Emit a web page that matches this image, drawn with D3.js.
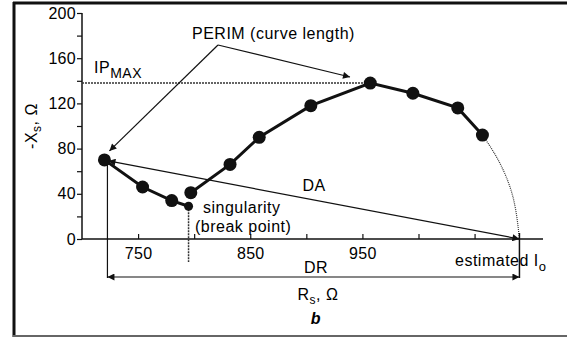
<!DOCTYPE html>
<html>
<head>
<meta charset="utf-8">
<script src="https://cdn.jsdelivr.net/npm/d3@7"></script>
<style>
  body { margin: 0; background: #fff; }
  text { font-family: "Liberation Sans", Arial, sans-serif; fill: #000; letter-spacing: 0.5px; }
</style>
</head>
<body>
<svg id="chart" width="567" height="337"></svg>
<script>
// impedance locus points (Rs, -Xs)
const rs = [720, 754, 780, 797, 832, 858, 904, 957, 995, 1035, 1057];
const xs = [70, 46, 34, 41, 66, 90, 118, 138, 129, 116, 92];
const singularity = [795, 29];
// dotted extrapolation down to the estimated Io
const extrapRs = [1057, 1071, 1084, 1090];
const extrapXs = [92, 70, 38, 0];
const xTicks = [750, 800, 850, 900, 950, 1000, 1050];
const xLabels = [750, 850, 950];
const yTicks = [0, 20, 40, 60, 80, 100, 120, 140, 160, 180, 200];
const yLabels = [0, 40, 80, 120, 160, 200];
const ipMax = 138;
const estIo = 1090;

const svg = d3.select('#chart');
const x = d3.scaleLinear().domain([700, 1111]).range([82, 543]);
const y = d3.scaleLinear().domain([0, 200]).range([239, 13]);

// frame
svg.append('line').attr('x1', 13).attr('x2', 567).attr('y1', 3).attr('y2', 3).attr('stroke', '#111').attr('stroke-width', 3);
svg.append('line').attr('x1', 14).attr('x2', 14).attr('y1', 2).attr('y2', 337).attr('stroke', '#111').attr('stroke-width', 3);
svg.append('line').attr('x1', 13).attr('x2', 567).attr('y1', 336).attr('y2', 336).attr('stroke', '#666').attr('stroke-width', 2);

const defs = svg.append('defs');
defs.append('marker').attr('id', 'arr').attr('viewBox', '0 0 10 10')
  .attr('refX', 10).attr('refY', 5).attr('markerWidth', 9).attr('markerHeight', 7)
  .attr('markerUnits', 'userSpaceOnUse').attr('orient', 'auto-start-reverse')
  .append('path').attr('d', 'M0,0L10,5L0,10z').attr('fill', '#111');

// axes
const xAxis = svg.append('g').attr('transform', `translate(0,${y(0)})`)
  .call(d3.axisBottom(x).tickValues(xTicks).tickSize(-5).tickPadding(9).tickFormat(d => xLabels.includes(d) ? d : ''));
const yAxis = svg.append('g').attr('transform', `translate(${x(700)},0)`)
  .call(d3.axisLeft(y).tickValues(yTicks).tickSize(5).tickPadding(1).tickFormat(d => yLabels.includes(d) ? d : ''));
[xAxis, yAxis].forEach(a => {
  a.select('.domain').attr('stroke', '#111').attr('stroke-width', 1.5);
  a.selectAll('line').attr('stroke', '#111').attr('stroke-width', 1.2);
  a.selectAll('text').attr('font-size', 16).attr('fill', '#000')
    .style('font-family', '"Liberation Sans", Arial, sans-serif').style('letter-spacing', '0.3px');
});
xAxis.select('.domain').attr('d', `M${x(700)},0H${x(1111)}`);
yAxis.select('.domain').attr('d', `M0,${y(200)}V${y(0)}`);

// IPmax dotted
svg.append('line').attr('x1', x(700)).attr('x2', x(957)).attr('y1', y(ipMax)).attr('y2', y(ipMax))
  .attr('stroke', '#333').attr('stroke-width', 1.5).attr('stroke-dasharray', '2,1');

// extrapolation arc
svg.append('path').datum(extrapRs.map((r, i) => [r, extrapXs[i]]))
  .attr('d', d3.line().x(d => x(d[0])).y(d => y(d[1])).curve(d3.curveNatural))
  .attr('fill', 'none').attr('stroke', '#333').attr('stroke-width', 1.2).attr('stroke-dasharray', '1,1');

// DA double arrow
svg.append('line').attr('x1', x(rs[0]) + 4).attr('y1', y(xs[0]) + 1).attr('x2', x(estIo)).attr('y2', y(0))
  .attr('stroke', '#111').attr('stroke-width', 1.2)
  .attr('marker-start', 'url(#arr)').attr('marker-end', 'url(#arr)');

// DR
const drY = 277;
svg.append('line').attr('x1', x(rs[0]) + 3).attr('x2', x(rs[0]) + 3).attr('y1', y(xs[0])).attr('y2', drY + 1).attr('stroke', '#111').attr('stroke-width', 1.2);
svg.append('line').attr('x1', x(estIo)).attr('x2', x(estIo)).attr('y1', y(0) - 6).attr('y2', drY + 1).attr('stroke', '#111').attr('stroke-width', 1.5);
svg.append('line').attr('x1', x(rs[0]) + 3).attr('x2', x(estIo)).attr('y1', drY).attr('y2', drY)
  .attr('stroke', '#111').attr('stroke-width', 1.2)
  .attr('marker-start', 'url(#arr)').attr('marker-end', 'url(#arr)');

// singularity dotted vertical
svg.append('line').attr('x1', x(singularity[0])).attr('x2', x(singularity[0])).attr('y1', y(singularity[1])).attr('y2', 262)
  .attr('stroke', '#333').attr('stroke-width', 1.5).attr('stroke-dasharray', '2,1');

// locus
const pts = rs.map((r, i) => [r, xs[i]]);
const line = d3.line().x(d => x(d[0])).y(d => y(d[1]));
svg.append('path').datum([pts[0], pts[1], pts[2], singularity])
  .attr('d', line).attr('fill', 'none').attr('stroke', '#111').attr('stroke-width', 3);
svg.append('path').datum(pts.slice(3))
  .attr('d', line).attr('fill', 'none').attr('stroke', '#111').attr('stroke-width', 3);
svg.selectAll('circle.pt').data(pts).enter().append('circle').attr('class', 'pt')
  .attr('cx', d => x(d[0])).attr('cy', d => y(d[1])).attr('r', 6.5).attr('fill', '#111');
svg.append('circle').attr('cx', x(singularity[0])).attr('cy', y(singularity[1])).attr('r', 4.5).attr('fill', '#111');

// PERIM arrows
svg.append('line').attr('x1', 218).attr('y1', 45).attr('x2', x(rs[0]) + 5).attr('y2', y(xs[0]) - 9)
  .attr('stroke', '#111').attr('stroke-width', 1.2).attr('marker-end', 'url(#arr)');
svg.append('line').attr('x1', 218).attr('y1', 45).attr('x2', 350).attr('y2', 77)
  .attr('stroke', '#111').attr('stroke-width', 1.2).attr('marker-end', 'url(#arr)');

// labels
const txt = (tx, ty, s, opts = {}) => svg.append('text').attr('x', tx).attr('y', ty)
  .attr('font-size', opts.size || 16).attr('text-anchor', opts.anchor || 'start')
  .attr('font-style', opts.style || 'normal').attr('font-weight', opts.weight || 'normal').text(s);

txt(192, 39, 'PERIM (curve length)');
const ip = txt(94, 73, 'IP');
ip.append('tspan').attr('font-size', 14).attr('dy', 5).text('MAX');
txt(314, 191, 'DA', {anchor: 'middle'});
txt(203, 213, 'singularity');
txt(195, 232, '(break point)');
txt(316, 273, 'DR', {anchor: 'middle'});
const est = txt(455, 266, 'estimated I');
est.append('tspan').attr('font-size', 13).attr('dy', 5).text('o');
const rl = txt(318, 300, 'R', {anchor: 'middle'});
rl.append('tspan').attr('font-size', 12).attr('dy', 4).text('s');
rl.append('tspan').attr('dy', -4).text(', Ω');
txt(316, 324, 'b', {anchor: 'middle', style: 'italic', weight: 'bold'});
const yl = svg.append('text').attr('transform', 'translate(37,126) rotate(-90)')
  .attr('text-anchor', 'middle').attr('font-size', 16).text('-X');
yl.append('tspan').attr('font-size', 12).attr('dy', 4).text('s');
yl.append('tspan').attr('dy', -4).text(', Ω');
</script>
</body>
</html>
